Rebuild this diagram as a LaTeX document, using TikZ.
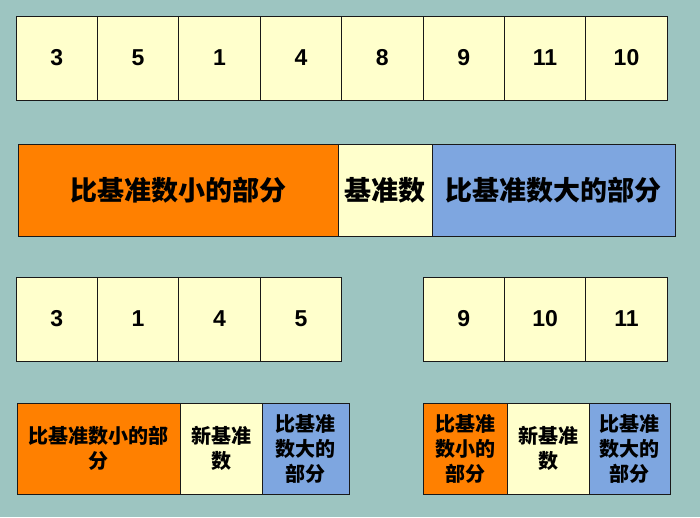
\documentclass[tikz,border=0pt]{standalone}
\usepackage{fontspec}
\setmainfont{Liberation Sans}
\newfontfamily\cjk{Noto Sans CJK SC}
\usepackage{tikz}
\usetikzlibrary{positioning}
\definecolor{bgteal}{HTML}{9DC5C1}
\definecolor{cream}{HTML}{FFFFCC}
\definecolor{partorange}{HTML}{FF8000}
\definecolor{partblue}{HTML}{7EA6E0}

\begin{document}
\begin{tikzpicture}[x=1pt,y=-1pt]
  \tikzstyle{cell}=[draw=black!90,line width=1pt,outer sep=0pt,inner sep=0pt,fill=cream]
  \tikzstyle{num cell}=[cell,minimum width=81.4pt,minimum height=84pt,font=\fontsize{23}{27}\selectfont\bfseries]
  \tikzset{
part big/.style={cell,minimum height=92pt,font=\cjk\bfseries\fontsize{27}{30}\selectfont},
part small/.style={cell,minimum height=91pt,align=center,font=\cjk\bfseries\fontsize{20}{25}\selectfont}
}
  \fill[bgteal] (0,0) rectangle (700,517);
  \useasboundingbox (0,0) rectangle (700,517);
  % the whole list
  \node[num cell,anchor=north west](a1) at (16,16){3};
  \node[num cell,right=0pt of a1](a2){5};
  \node[num cell,right=0pt of a2](a3){1};
  \node[num cell,right=0pt of a3](a4){4};
  \node[num cell,right=0pt of a4](a5){8};
  \node[num cell,right=0pt of a5](a6){9};
  \node[num cell,right=0pt of a6](a7){11};
  \node[num cell,right=0pt of a7](a8){10};
  % the three parts
  \node[part big,fill=partorange,minimum width=320pt,anchor=north west](low) at (18,144){比基准数小的部分};
  \node[part big,minimum width=94pt,right=0pt of low](pivot){基准数};
  \node[part big,fill=partblue,minimum width=243pt,right=0pt of pivot](high){比基准数大的部分};
  % left and right lists
  \node[num cell,anchor=north west](l1) at (16,277){3};
  \node[num cell,right=0pt of l1](l2){1};
  \node[num cell,right=0pt of l2](l3){4};
  \node[num cell,right=0pt of l3](l4){5};
  \node[num cell,anchor=north west](r1) at (423,277){9};
  \node[num cell,right=0pt of r1](r2){10};
  \node[num cell,right=0pt of r2](r3){11};
  % the parts again, once per list
  \node[part small,fill=partorange,minimum width=163pt,anchor=north west](llow) at (17,403){比基准数小的部\\分};
  \node[part small,minimum width=82pt,right=0pt of llow](lpivot){新基准\\数};
  \node[part small,fill=partblue,minimum width=87pt,right=0pt of lpivot](lhigh){比基准\\数大的\\部分};
  \node[part small,fill=partorange,minimum width=84pt,anchor=north west](rlow) at (423,403){比基准\\数小的\\部分};
  \node[part small,minimum width=82pt,right=0pt of rlow](rpivot){新基准\\数};
  \node[part small,fill=partblue,minimum width=81pt,right=0pt of rpivot](rhigh){比基准\\数大的\\部分};
\end{tikzpicture}
\end{document}
